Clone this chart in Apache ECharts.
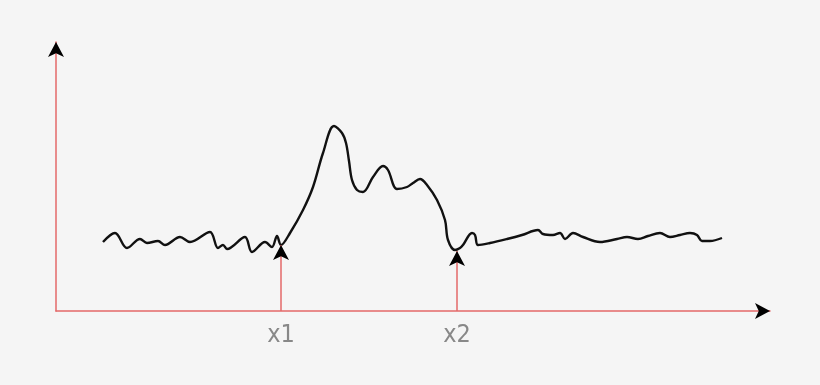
<!DOCTYPE html>
<html>
<head>
<meta charset="utf-8">
<script src="https://cdn.jsdelivr.net/npm/echarts@6/dist/echarts.min.js"></script>
<style>
html,body{margin:0;padding:0;background:#f5f5f5;}
#c{width:820px;height:385px;}
</style>
</head>
<body>
<div id="c"></div>
<script>
// Signal curve (x position, signal level)
const curveX = [47,59,71,84,91,102,109,124,134,154,162,167,171,189,196,209,216,221,225,234,247,257,267,278,286,290,293,296,301,307,317,327,332,341,351,357,364,371,381,389,392,399,404,407,416,419,422,434,451,466,482,487,497,504,509,517,527,544,561,571,582,592,604,614,624,634,641,646,654,666];
const curveY = [69,78,63,72,68,70,66,74,69,79,63,66,62,74,59,69,64,75,66,78,101,124,158,185,178,168,150,131,121,119,134,145,141,122,124,128,132,126,111,91,71,61,63,66,78,76,66,68,72,76,81,77,76,78,72,78,74,69,72,74,72,75,78,74,76,78,76,70,70,73];
// Marked positions
const markerNames = ['x1','x2'];
const markerX = [225, 401];
const markerLevel = [66, 60];
// Axis extents
const xMax = 714;
const yMax = 269;

const red = '#e36868';
const curveData = curveX.map((x,i)=>[x, curveY[i]]);
const markLines = markerX.map((x,i)=>[{coord:[x,0]},{coord:[x,markerLevel[i]]}]);
const labelMap = {};
markerX.forEach((x,i)=>{labelMap[x]=markerNames[i];});

const chart = echarts.init(document.getElementById('c'));
chart.setOption({
  backgroundColor:'#f5f5f5',
  animation:false,
  grid:{left:56,right:50,top:42,bottom:74,containLabel:false,outerBoundsMode:'none'},
  xAxis:{
    type:'value',min:0,max:xMax,
    axisLine:{show:true,onZero:false,lineStyle:{color:red,width:1.5}},
    axisTick:{show:false},
    splitLine:{show:false},
    axisLabel:{
      show:true,customValues:markerX,margin:12,
      formatter:(v)=>labelMap[v]||'',
      color:'#888888',fontSize:25,
      fontFamily:"'DejaVu Sans Condensed',sans-serif"
    }
  },
  yAxis:{
    type:'value',min:0,max:yMax,
    axisLine:{show:true,onZero:false,lineStyle:{color:red,width:1.5}},
    axisTick:{show:false},
    splitLine:{show:false},
    axisLabel:{show:false}
  },
  series:[
    {
      type:'line',data:curveData,smooth:0.35,showSymbol:false,
      lineStyle:{color:'#111',width:2.4},
      markLine:{
        silent:true,symbol:['none','none'],
        lineStyle:{color:red,width:1.5,type:'solid'},
        label:{show:false},
        data:markLines
      }
    },
    {
      type:'scatter',clip:false,symbol:'arrow',symbolSize:[12,15],
      itemStyle:{color:'#000',opacity:1},
      data:markerX.map((x,i)=>[x,markerLevel[i]]).concat([[0,yMax]]),
      z:5
    },
    {
      type:'scatter',clip:false,symbol:'arrow',symbolSize:[12,15],symbolRotate:-90,
      itemStyle:{color:'#000',opacity:1},
      data:[[xMax,0]],
      z:5
    }
  ]
});
</script>
</body>
</html>
